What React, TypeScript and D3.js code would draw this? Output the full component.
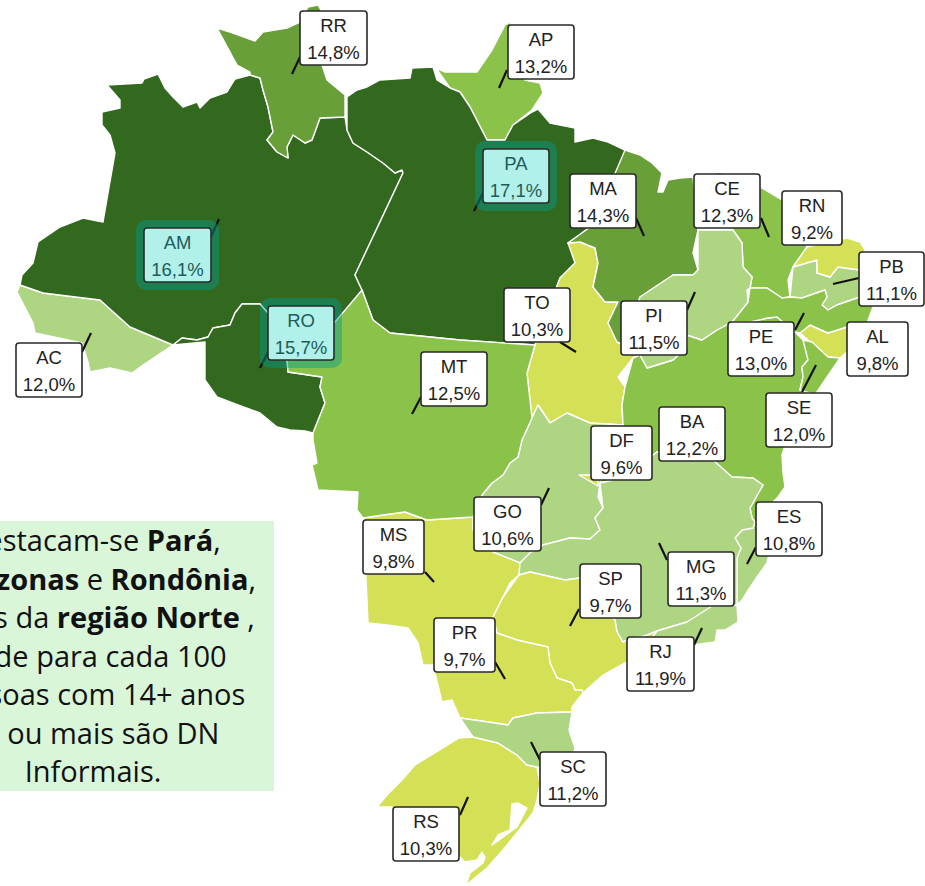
import * as d3 from 'd3';
import React from 'react';

// Values per state, DF stays last so it sits on top of Goiás
const states = ['AC','AM','AP','PA','RO','RR','TO','AL','BA','CE','MA','PB','PE','PI','RN','SE','GO','MS','MT','ES','MG','RJ','SP','PR','RS','SC','DF'];
const values = [12.0,16.1,13.2,17.1,15.7,14.8,10.3,9.8,12.2,12.3,14.3,11.1,13.0,11.5,9.2,12.0,10.6,9.8,12.5,10.8,11.3,11.9,9.7,9.7,10.3,11.2,9.6];
// map colour class (1 = lightest) as painted, 12,0 falls on both sides of the break in the source
const classes = [2,5,3,5,5,4,1,1,3,3,4,2,3,2,1,3,2,1,3,2,2,2,1,1,1,2,1];
const highlighted = ['AM','PA','RO'];
const colours = ['#d4e157','#aed581','#8bc34a','#689f38','#33691e'];

// State outlines, traced in picture pixels
const outlines: Record<string, number[][][]> = {
  AC: [[[17,292],[20,285],[43,293],[100,300],[130,327],[173,345],[143,365],[132,373],[110,368],[90,372],[88,362],[82,343],[35,333],[33,323],[22,308]]],
  AM: [[[107,85],[142,83],[144,79],[158,74],[165,88],[173,97],[183,107],[197,102],[200,108],[210,98],[227,92],[235,79],[250,75],[260,78],[263,90],[268,107],[273,132],[267,140],[277,152],[288,158],[287,147],[293,135],[305,143],[312,140],[320,118],[345,117],[347,130],[353,143],[367,152],[383,163],[395,173],[402,170],[403,173],[355,275],[362,290],[357,322],[335,322],[300,325],[267,312],[260,304],[242,304],[235,313],[230,325],[213,328],[208,337],[197,340],[182,338],[173,345],[130,327],[100,300],[43,293],[20,285],[22,275],[33,263],[38,242],[60,227],[83,218],[103,222],[115,153],[110,135],[102,125],[102,112],[120,108],[120,100],[107,97]]],
  AP: [[[436,68],[445,72],[460,72],[477,72],[492,50],[505,25],[510,22],[525,80],[540,83],[543,93],[532,110],[513,125],[505,140],[487,140],[470,107],[460,92],[450,88],[437,80]]],
  PA: [[[347,97],[357,90],[367,87],[380,80],[410,78],[412,68],[433,67],[437,80],[450,88],[460,92],[470,107],[487,140],[505,140],[513,125],[532,112],[538,109],[550,123],[575,128],[575,142],[593,138],[608,142],[625,150],[623,170],[593,225],[568,243],[580,248],[575,263],[560,278],[535,345],[460,340],[390,333],[373,320],[362,290],[355,275],[403,173],[402,170],[395,173],[383,163],[367,152],[353,143],[347,130],[345,117]]],
  RO: [[[173,345],[182,338],[197,340],[208,337],[213,328],[230,325],[235,313],[242,304],[260,304],[267,312],[300,325],[287,360],[288,372],[322,377],[320,387],[325,403],[313,433],[305,431],[290,430],[277,427],[260,413],[238,405],[217,397],[205,380],[205,342],[190,343]]],
  RR: [[[217,28],[230,32],[255,41],[263,32],[287,28],[300,22],[308,7],[318,5],[322,12],[340,40],[322,65],[327,80],[345,95],[345,117],[320,118],[312,140],[305,143],[293,135],[287,147],[288,158],[277,152],[267,140],[273,132],[268,107],[263,90],[260,78],[250,75],[250,72],[237,65],[232,50]]],
  TO: [[[568,243],[580,242],[595,248],[598,263],[593,287],[605,302],[618,302],[608,323],[617,342],[625,345],[640,355],[633,358],[618,377],[625,387],[622,405],[623,425],[590,423],[567,413],[550,423],[538,405],[532,418],[527,373],[535,345],[560,278],[575,263],[580,248]]],
  AL: [[[800,333],[810,325],[828,333],[847,327],[867,323],[855,345],[840,358],[828,357],[812,342]]],
  BA: [[[633,358],[640,355],[647,368],[673,360],[687,347],[687,335],[702,340],[717,330],[732,322],[750,322],[768,318],[777,317],[795,332],[803,340],[810,352],[808,360],[802,367],[803,377],[800,390],[815,395],[790,430],[782,455],[783,473],[785,487],[778,497],[773,502],[775,515],[755,522],[752,518],[750,508],[763,485],[753,478],[732,477],[713,460],[657,452],[640,465],[613,480],[600,483],[620,425],[623,425],[622,405],[625,387],[618,377]]],
  CE: [[[693,177],[720,172],[762,188],[782,200],[807,247],[793,267],[788,280],[790,297],[782,298],[767,288],[750,288],[752,277],[743,267],[742,243],[733,230],[698,230]]],
  MA: [[[625,150],[640,155],[652,163],[662,173],[658,192],[663,192],[668,180],[680,178],[693,177],[698,230],[693,253],[698,270],[693,275],[673,275],[640,297],[625,345],[617,342],[608,323],[618,302],[605,302],[593,287],[598,263],[595,248],[580,242],[568,243],[593,225],[623,170]]],
  PB: [[[793,267],[817,260],[817,273],[830,277],[838,267],[860,270],[865,290],[860,297],[837,305],[828,310],[822,305],[827,297],[825,290],[802,298],[790,297],[788,280]]],
  PE: [[[750,288],[767,288],[782,298],[790,297],[802,298],[825,290],[827,297],[822,305],[828,310],[837,305],[860,297],[873,307],[867,323],[847,327],[828,333],[810,325],[800,333],[795,332],[777,317],[768,318],[750,322],[732,322],[748,302],[747,290]]],
  PI: [[[698,230],[733,230],[742,243],[743,267],[752,277],[750,288],[747,290],[748,302],[732,322],[717,330],[702,340],[687,335],[687,347],[673,360],[647,368],[640,355],[625,345],[640,297],[673,275],[693,275],[698,270],[693,253]]],
  RN: [[[807,247],[793,267],[817,260],[817,273],[830,277],[838,267],[860,270],[865,250],[860,242],[847,238],[825,240]]],
  SE: [[[803,340],[812,342],[828,357],[840,358],[825,380],[815,395],[800,390],[803,377],[802,367],[808,360],[810,352]]],
  GO: [[[623,425],[590,423],[567,413],[550,423],[538,405],[532,418],[522,440],[518,457],[510,463],[503,475],[492,483],[482,495],[473,517],[473,530],[493,552],[520,563],[530,553],[543,545],[570,538],[590,539],[600,530],[595,518],[603,508],[598,497],[600,483],[620,425]]],
  MS: [[[363,518],[383,515],[405,512],[427,520],[457,518],[473,517],[473,530],[493,552],[520,563],[519,575],[510,583],[503,597],[493,617],[433,665],[423,665],[418,643],[408,628],[387,625],[368,623],[367,600],[363,580]]],
  MT: [[[362,290],[373,320],[390,333],[460,340],[535,345],[527,373],[532,418],[522,440],[518,457],[510,463],[503,475],[492,483],[482,495],[473,517],[457,518],[427,520],[405,512],[383,515],[363,518],[357,510],[358,492],[318,490],[312,465],[317,463],[313,440],[313,433],[325,403],[320,387],[322,377],[288,372],[287,360],[300,325],[335,322],[357,322]]],
  ES: [[[755,522],[753,528],[742,530],[735,538],[741,548],[737,558],[737,605],[742,600],[747,592],[757,577],[767,563],[770,550],[775,515]]],
  MG: [[[600,483],[613,480],[640,465],[657,452],[713,460],[732,477],[753,478],[763,485],[750,508],[752,518],[755,522],[753,528],[742,530],[735,538],[741,548],[737,558],[737,605],[712,606],[708,615],[687,622],[657,631],[645,636],[627,640],[623,642],[617,632],[615,620],[580,578],[565,580],[530,572],[519,575],[520,563],[530,553],[543,545],[570,538],[590,539],[600,530],[595,518],[603,508],[598,497]]],
  RJ: [[[712,606],[737,605],[738,622],[725,630],[717,630],[715,642],[693,645],[660,650],[650,640],[657,631],[687,622],[708,615]]],
  SP: [[[519,575],[530,572],[565,580],[580,578],[615,620],[617,632],[623,642],[627,640],[645,636],[657,631],[650,640],[630,660],[603,675],[583,693],[582,690],[575,690],[572,683],[557,678],[550,663],[548,647],[517,640],[497,633],[493,617],[503,597],[510,583]]],
  PR: [[[433,665],[493,617],[497,633],[517,640],[548,647],[550,663],[557,678],[572,683],[575,690],[582,690],[583,693],[572,707],[572,712],[537,713],[513,718],[508,725],[488,722],[460,718],[452,700],[442,702],[448,672]]],
  RS: [
    [[459,738],[473,737],[498,743],[517,755],[527,765],[537,767],[540,783],[537,800],[533,813],[503,850],[487,868],[466,885],[470,873],[483,863],[485,857],[482,852],[477,860],[465,862],[460,857],[395,858],[392,807],[377,807],[387,795],[400,782],[415,765],[437,748]],
    [[492,845],[498,835],[510,830],[512,804],[518,803],[527,808],[517,827],[502,845]],
  ],
  SC: [[[460,718],[488,722],[508,725],[513,718],[537,713],[572,712],[569,730],[575,748],[570,770],[537,767],[527,765],[517,755],[498,743],[473,737],[459,738]]],
  DF: [[[579,475],[598,475],[598,486],[579,486]]],
};

// Label boxes: state, x, y, width
const labelBoxes: [string, number, number, number][] = [
  ['RR',300,11,67],['AP',508,25,66],['PA',483,149,66],['AM',144,228,67],['RO',268,306,66],['AC',16,343,66],
  ['MT',421,352,66],['MA',570,174,66],['CE',694,174,66],['RN',782,191,60],['PB',859,252,65],['AL',847,322,61],
  ['PE',728,322,66],['PI',621,301,66],['TO',504,288,66],['SE',766,393,66],['BA',659,407,66],['DF',591,426,61],
  ['GO',474,497,67],['MS',363,520,61],['PR',434,618,61],['SP',580,564,61],['MG',668,552,66],['RJ',627,637,67],
  ['ES',756,502,66],['SC',540,752,66],['RS',393,807,66],
];
const boxHeight = 54;

// Leader ticks: x1, y1, x2, y2
const leaders = [
  [300,57,292,74],[507,70,499,88],[483,193,474,211],[211,237,219,219],[268,352,260,368],[82,352,91,333],
  [421,397,412,414],[636,218,644,236],[761,218,769,237],[859,278,833,284],[795,330,804,313],[687,310,695,292],
  [560,342,576,352],[802,392,816,365],[541,505,549,488],[425,572,434,582],[495,662,505,679],[579,609,570,626],
  [667,560,659,543],[694,645,702,628],[756,547,747,564],[540,760,531,742],[460,815,468,797],
];

// Note text, the start of the lines runs off the left edge of the picture
const noteLines: [string, boolean][][] = [
  [['Destacam-se ',false],['Pará',true],[',',false]],
  [['Amazonas',true],[' e ',false],['Rondônia',true],[',',false]],
  [['todos da ',false],['região Norte',true],[' ,',false]],
  [['onde para cada 100',false]],
  [['pessoas com 14+ anos',false]],
  [['14 ou mais são DN',false]],
  [['Informais.',false]],
];

const fmt = (v: number) => v.toFixed(1).replace('.', ',') + '%';

export default function App() {
  const path = d3.geoPath(d3.geoIdentity());
  const colour = d3.scaleOrdinal<number, string>().domain([1,2,3,4,5]).range(colours);

  return (
    <svg width={925} height={886} style={{ position: 'absolute', left: 0, top: 0, background: '#fff' }}>
      <g>
        {states.map((s, i) => (
          <path
            key={s}
            d={path({ type: 'Polygon', coordinates: outlines[s] } as any) as string}
            fill={colour(classes[i])}
            fillRule="evenodd"
            stroke="#fff"
            strokeWidth={1.4}
            strokeLinejoin="round"
          />
        ))}
      </g>
      <g>
        {leaders.map((l, i) => (
          <line key={i} x1={l[0]} y1={l[1]} x2={l[2]} y2={l[3]} stroke="#111" strokeWidth={2.2} />
        ))}
      </g>
      <g fontFamily="'Liberation Sans', Arial, sans-serif" fontSize={18.5} textAnchor="middle">
        {labelBoxes.map(([s, x, y, w]) => {
          const hot = highlighted.includes(s);
          return (
            <g key={s}>
              {hot && <rect x={x - 8} y={y - 8} width={w + 16} height={boxHeight + 16} rx={10} fill="#039b8e" opacity={0.45} />}
              <rect x={x} y={y} width={w} height={boxHeight} rx={3} fill={hot ? '#b2f0ea' : '#fff'} stroke="#2a2a2a" strokeWidth={1.6} />
              <text x={x + w / 2} y={y + 21} fill={hot ? '#1d5c5a' : '#222'}>{s}</text>
              <text x={x + w / 2} y={y + 48} fill={hot ? '#1d5c5a' : '#222'}>{fmt(values[states.indexOf(s)])}</text>
            </g>
          );
        })}
      </g>
      <rect x={-88} y={521} width={362} height={270} fill="#d9f6d9" />
      <g fontFamily="'Open Sans', sans-serif" fontSize={29} textAnchor="middle" fill="#111">
        {noteLines.map((parts, i) => (
          <text key={i} x={93} y={551 + i * 38.5}>
            {parts.map(([t, b], j) => (
              <tspan key={j} fontWeight={b ? 700 : 400}>{t}</tspan>
            ))}
          </text>
        ))}
      </g>
    </svg>
  );
}
